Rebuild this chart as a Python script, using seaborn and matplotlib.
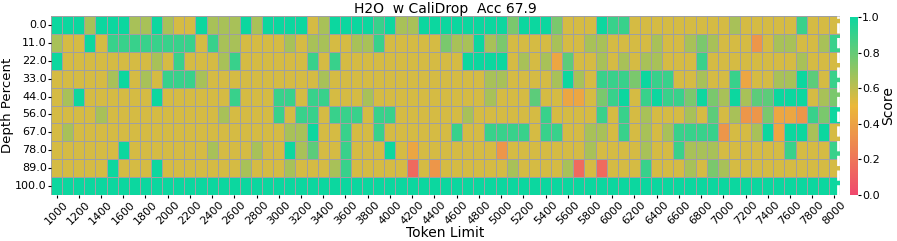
import numpy as np
import pandas as pd
import matplotlib
matplotlib.use("Agg")
import matplotlib.pyplot as plt
from matplotlib.colors import LinearSegmentedColormap
import seaborn as sns

# Token limits (columns) and depth percents (rows)
token_limits = list(range(1000, 8001, 100))
depth_percents = [0.0, 11.0, 22.0, 33.0, 44.0, 56.0, 67.0, 78.0, 89.0, 100.0]

# Scores, one list per depth row
row_0 = [1.0, 1.0, 1.0, 0.65, 1.0, 1.0, 1.0, 0.65, 0.65, 1.0, 0.65, 0.55, 0.55, 1.0, 0.65, 0.65, 0.65, 1.0,
         0.65, 1.0, 1.0, 1.0, 1.0, 0.55, 0.65, 1.0, 1.0, 1.0, 1.0, 0.9, 1.0, 0.65, 0.65, 1.0, 1.0,
         1.0, 1.0, 1.0, 1.0, 1.0, 1.0, 0.75, 1.0, 1.0, 1.0, 0.75, 0.55, 0.55, 0.55, 1.0, 0.9, 0.9,
         0.55, 0.55, 0.55, 0.55, 0.55, 0.55, 0.55, 0.55, 0.55, 0.65, 0.55, 0.55, 0.55, 0.55, 0.55, 0.9, 0.55, 0.55, 0.55]
row_11 = [0.65, 0.55, 0.55, 1.0, 0.55, 0.9, 0.9, 0.9, 0.9, 0.9, 0.9, 0.9, 0.9, 0.55, 0.9, 0.65, 0.65, 0.55,
          0.55, 0.55, 0.55, 0.65, 0.55, 0.65, 0.65, 0.55, 0.55, 0.65, 0.65, 0.9, 0.55, 0.55, 0.55, 0.55, 0.55,
          0.75, 0.65, 0.65, 1.0, 0.65, 0.75, 0.55, 0.55, 0.55, 0.55, 0.65, 0.55, 0.55, 0.65, 0.65, 0.55, 0.55,
          0.55, 0.55, 0.65, 0.55, 0.55, 0.65, 0.75, 0.65, 0.55, 0.55, 0.55, 0.35, 0.55, 0.65, 0.65, 0.55, 0.55, 0.65, 0.9]
row_22 = [1.0, 0.55, 0.55, 0.55, 0.55, 0.55, 0.55, 0.55, 0.55, 0.65, 0.55, 0.9, 0.55, 0.55, 0.55, 0.65, 0.9, 0.55,
          0.55, 0.55, 0.55, 0.55, 0.55, 0.9, 0.55, 0.9, 0.55, 0.55, 0.55, 0.55, 0.55, 0.55, 0.55, 0.55, 0.55,
          0.55, 0.55, 1.0, 1.0, 1.0, 1.0, 0.55, 0.65, 0.55, 0.65, 0.42, 0.82, 0.55, 0.55, 0.65, 0.55, 0.65,
          0.55, 0.65, 0.65, 0.55, 0.55, 0.55, 0.9, 0.55, 0.55, 0.55, 0.55, 0.55, 0.55, 0.55, 0.55, 0.65, 0.55, 0.55, 0.55]
row_33 = [0.55, 0.55, 0.55, 0.55, 0.55, 0.65, 1.0, 0.55, 0.65, 0.55, 0.9, 0.9, 0.9, 0.65, 0.55, 0.55, 0.55, 0.55,
          0.55, 0.55, 0.55, 0.55, 0.55, 0.55, 0.65, 0.55, 0.55, 0.55, 0.55, 0.55, 0.55, 0.55, 0.55, 0.55, 0.55,
          0.55, 0.55, 0.55, 0.55, 0.65, 0.65, 0.55, 0.55, 0.55, 0.55, 0.65, 1.0, 0.65, 0.55, 0.9, 0.9, 0.9,
          0.75, 1.0, 0.9, 0.9, 0.55, 0.55, 0.65, 0.55, 0.55, 0.9, 0.42, 0.55, 0.55, 0.65, 0.65, 1.0, 0.82, 0.55, 0.9]
row_44 = [0.55, 0.65, 1.0, 0.55, 0.55, 0.55, 0.55, 0.55, 0.55, 1.0, 0.55, 0.55, 0.55, 0.55, 0.55, 0.55, 0.9, 0.55,
          0.55, 0.55, 0.9, 0.9, 0.55, 0.9, 0.9, 0.55, 0.55, 0.55, 0.65, 0.55, 0.55, 0.55, 0.55, 0.55, 0.55,
          0.55, 0.55, 0.55, 0.55, 0.65, 0.55, 0.55, 0.55, 0.82, 0.55, 0.55, 0.42, 0.42, 0.55, 0.75, 0.9, 1.0,
          0.55, 0.9, 1.0, 0.9, 0.9, 0.75, 1.0, 0.75, 0.65, 1.0, 0.65, 0.82, 0.82, 1.0, 1.0, 1.0, 0.55, 0.65, 0.75]
row_56 = [0.55, 0.55, 0.55, 0.55, 0.65, 0.55, 0.55, 0.55, 0.55, 0.55, 0.55, 0.55, 0.55, 0.55, 0.55, 0.65, 0.55, 0.55,
          0.55, 0.55, 0.9, 0.55, 0.9, 0.9, 0.55, 0.9, 0.9, 0.9, 0.55, 0.9, 0.9, 0.55, 0.55, 0.55, 0.55,
          0.55, 0.55, 0.65, 0.55, 0.55, 0.55, 0.55, 0.55, 0.55, 0.9, 0.55, 0.55, 0.55, 0.55, 0.9, 0.55, 0.9,
          0.55, 0.65, 0.55, 0.55, 0.55, 0.65, 0.55, 0.82, 0.55, 0.65, 0.35, 0.35, 0.75, 0.42, 0.42, 0.35, 0.9, 0.75, 1.0]
row_67 = [0.55, 0.65, 0.55, 0.55, 0.55, 0.55, 0.55, 0.55, 0.55, 0.55, 0.55, 0.55, 0.55, 0.55, 0.55, 0.55, 0.55, 0.55,
          0.55, 0.55, 0.55, 0.65, 0.65, 1.0, 0.55, 0.55, 0.9, 0.55, 0.55, 0.9, 0.55, 0.55, 0.55, 0.55, 0.55,
          0.55, 0.9, 0.55, 0.55, 0.9, 0.9, 0.9, 0.9, 0.55, 0.9, 0.9, 0.55, 0.55, 0.65, 0.65, 0.55, 0.9,
          0.55, 0.65, 0.55, 0.65, 0.9, 0.9, 0.9, 0.9, 0.35, 0.55, 0.55, 0.65, 1.0, 0.42, 1.0, 1.0, 0.65, 1.0, 0.55]
row_78 = [0.55, 0.55, 0.55, 0.55, 0.55, 0.55, 1.0, 0.55, 0.55, 0.55, 0.55, 0.55, 0.55, 0.55, 0.65, 0.55, 0.55, 0.55,
          0.65, 0.55, 0.55, 1.0, 0.65, 0.82, 0.55, 0.55, 0.9, 0.55, 0.55, 0.55, 1.0, 0.55, 0.42, 0.55, 0.55,
          0.55, 0.55, 0.55, 0.55, 0.55, 0.35, 0.55, 0.55, 0.55, 0.55, 0.55, 0.55, 0.55, 0.65, 0.55, 0.55, 0.55,
          0.55, 0.65, 0.55, 0.55, 0.9, 0.65, 0.65, 0.65, 0.55, 0.55, 0.55, 0.55, 0.55, 0.55, 0.9, 0.55, 0.55, 0.55, 0.9]
row_89 = [0.55, 0.55, 0.55, 0.55, 0.55, 1.0, 0.55, 0.55, 0.55, 1.0, 0.55, 0.55, 0.55, 0.55, 0.55, 0.55, 0.55, 0.65,
          0.55, 0.55, 0.55, 0.65, 0.55, 0.55, 0.55, 0.65, 0.9, 0.55, 0.55, 0.55, 0.55, 0.55, 0.15, 0.55, 0.35,
          0.55, 0.55, 0.55, 0.55, 0.55, 0.55, 0.65, 0.55, 0.55, 0.55, 0.55, 0.65, 0.15, 0.55, 0.15, 0.55, 0.55,
          0.55, 0.9, 0.55, 0.55, 0.55, 0.65, 0.55, 0.75, 0.65, 0.55, 0.55, 0.55, 0.55, 0.55, 0.55, 0.55, 0.55, 0.55, 0.55]
row_100 = [1.0] * len(token_limits)

title = "H2O  w CaliDrop  Acc 67.9"

scores = pd.DataFrame(
    [row_0, row_11, row_22, row_33, row_44, row_56, row_67, row_78, row_89, row_100],
    index=depth_percents, columns=token_limits,
)

cmap = LinearSegmentedColormap.from_list("custom_cmap", ["#F0496E", "#EBB839", "#0CD79F"])

fig = plt.figure(figsize=(8.97, 2.41), dpi=100)
ax = fig.add_axes([51 / 897, 46 / 241, 789 / 897, 179 / 241])
cax = fig.add_axes([850 / 897, 46 / 241, 8 / 897, 178 / 241])

sns.heatmap(scores, ax=ax, cbar_ax=cax, cmap=cmap, vmin=0, vmax=1,
            linewidths=0.5, linecolor="#a0a0a0")

# label every other token limit
xt = np.arange(0, len(token_limits), 2)
ax.set_xticks(xt + 0.5)
ax.set_xticklabels([str(token_limits[i]) for i in xt], rotation=45, fontsize=8)
ax.set_yticks(np.arange(len(depth_percents)) + 0.5)
ax.set_yticklabels([f"{d:.1f}" for d in depth_percents], rotation=0, fontsize=8)
ax.tick_params(length=2, pad=1)

ax.axvline(70.8, color="white", linestyle="--", linewidth=2)

ax.set_xlabel("Token Limit", fontsize=10, labelpad=0)
ax.set_ylabel("Depth Percent", fontsize=9.5, labelpad=1)
ax.set_title(title, fontsize=10, pad=2)

cax.tick_params(labelsize=8, length=2, pad=1)
cax.set_ylabel("Score", fontsize=10, labelpad=1)

fig.savefig("out.png", dpi=100)
